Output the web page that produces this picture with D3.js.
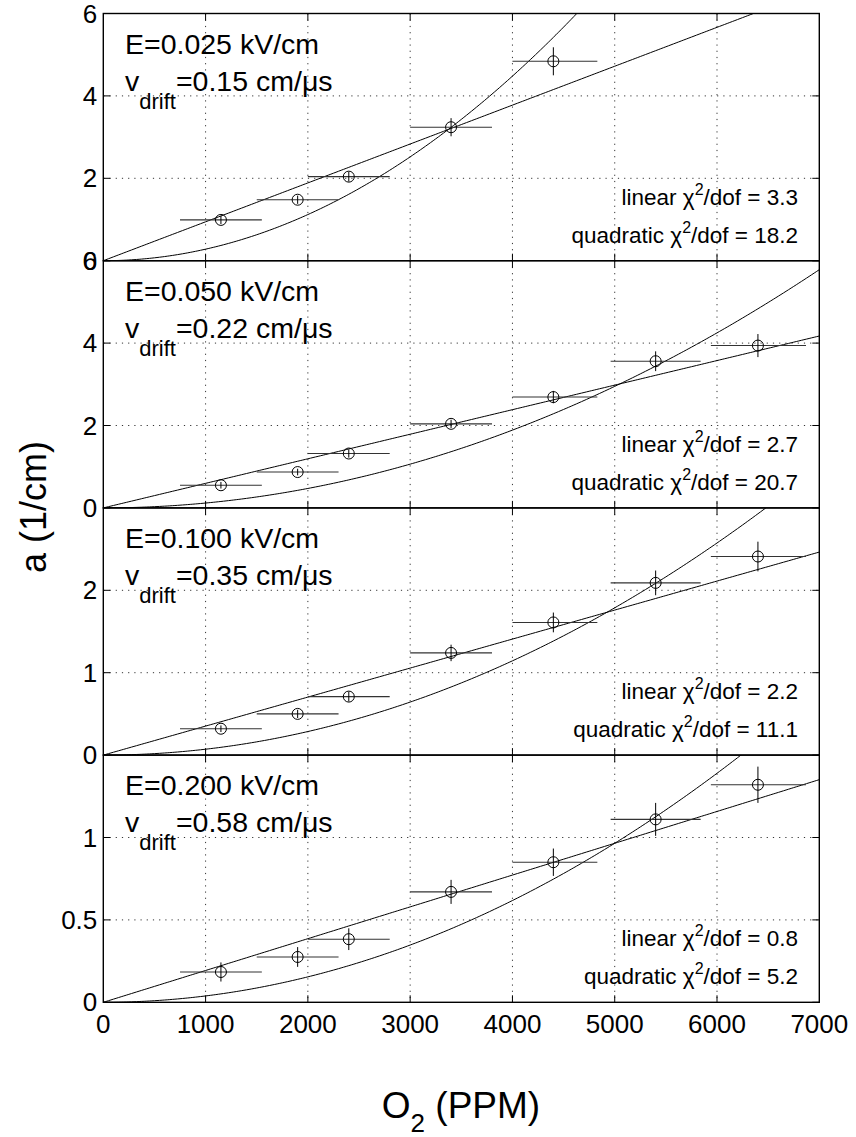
<!DOCTYPE html>
<html>
<head>
<meta charset="utf-8">
<script src="https://cdn.jsdelivr.net/npm/d3@7"></script>
<style>
  body { margin: 0; background: #fff; }
  svg { display: block; font-family: "Liberation Sans", Arial, Helvetica, sans-serif; }
</style>
</head>
<body>
<svg id="chart" width="856" height="1137"></svg>
<script>
// O2 concentration of each measurement and its horizontal extent
const o2ppm = [1150, 1900, 2400, 3400, 4400, 5400, 6400];
const o2Low = [750, 1500, 2000, 3000, 4000, 4960, 5940];
const o2High = [1550, 2300, 2800, 3800, 4830, 5840, 6870];

// panel labels
const fields = ["0.025", "0.050", "0.100", "0.200"];
const drifts = ["0.15", "0.22", "0.35", "0.58"];

// attenuation a (1/cm) and its error, one array per field
const atten025 = [0.99, 1.48, 2.04, 3.24, 4.84];
const err025 = [0.1, 0.1, 0.12, 0.22, 0.34];
const atten050 = [0.55, 0.87, 1.32, 2.04, 2.69, 3.56, 3.94];
const err050 = [0.08, 0.08, 0.1, 0.1, 0.15, 0.24, 0.28];
const atten100 = [0.32, 0.5, 0.71, 1.24, 1.61, 2.09, 2.41];
const err100 = [0.04, 0.05, 0.06, 0.1, 0.12, 0.15, 0.18];
const atten200 = [0.184, 0.275, 0.383, 0.67, 0.85, 1.11, 1.32];
const err200 = [0.058, 0.06, 0.066, 0.073, 0.083, 0.1, 0.11];

// fit coefficients: a = k*x (linear), a = q*x^2 (quadratic)
const linSlope = [9.44e-4, 5.96e-4, 3.52e-4, 1.93e-4];
const quadCoef = [2.80e-7, 1.18e-7, 7.15e-8, 3.86e-8];
const chiLinear = ["3.3", "2.7", "2.2", "0.8"];
const chiQuad = ["18.2", "20.7", "11.1", "5.2"];

// axes
const yMax = [6, 6, 3, 1.5];
const yTicks = [[0, 2, 4, 6], [0, 2, 4, 6], [0, 1, 2], [0, 0.5, 1]];
const xTicks = [0, 1000, 2000, 3000, 4000, 5000, 6000, 7000];

const attens = [atten025, atten050, atten100, atten200];
const errs = [err025, err050, err100, err200];

const left = 103.3, right = 819.3, top0 = 13.5, panelH = 247.2;
const svg = d3.select("#chart");
const x = d3.scaleLinear().domain([0, 7000]).range([left, right]);

fields.forEach((field, i) => {
  const top = top0 + i * panelH;
  const bottom = top + panelH;
  const y = d3.scaleLinear().domain([0, yMax[i]]).range([bottom, top]);
  const g = svg.append("g");

  g.append("clipPath").attr("id", "clip" + i)
    .append("rect").attr("x", left).attr("y", top)
    .attr("width", right - left).attr("height", panelH);

  // dotted grid
  const grid = g.append("g").attr("stroke", "#000").attr("stroke-width", 0.8)
    .attr("stroke-dasharray", "1.2,5");
  grid.selectAll(".gx").data(xTicks.slice(1, -1)).join("line")
    .attr("x1", d => x(d)).attr("x2", d => x(d))
    .attr("y1", top).attr("y2", bottom);
  grid.selectAll(".gy").data(yTicks[i].filter(d => d > 0 && d < yMax[i])).join("line")
    .attr("x1", left).attr("x2", right)
    .attr("y1", d => y(d)).attr("y2", d => y(d));

  // fits
  const xs = d3.range(0, 7001, 25);
  const line = d3.line().x(d => x(d[0])).y(d => y(d[1]));
  const fits = g.append("g").attr("clip-path", `url(#clip${i})`)
    .attr("fill", "none").attr("stroke", "#000").attr("stroke-width", 1);
  fits.append("path").attr("d", line(xs.map(v => [v, linSlope[i] * v])));
  fits.append("path").attr("d", line(xs.map(v => [v, quadCoef[i] * v * v])));

  // data points with error bars
  const pts = attens[i].map((a, j) => ({ a, e: errs[i][j], x: o2ppm[j], lo: o2Low[j], hi: o2High[j] }));
  const pg = g.append("g").attr("fill", "none");
  pg.selectAll(".xe").data(pts).join("line")
    .attr("stroke", "#333").attr("stroke-width", 1.1)
    .attr("x1", d => x(d.lo)).attr("x2", d => x(d.hi))
    .attr("y1", d => y(d.a)).attr("y2", d => y(d.a));
  pg.selectAll(".ye").data(pts).join("line")
    .attr("stroke", "#000").attr("stroke-width", 1)
    .attr("x1", d => x(d.x)).attr("x2", d => x(d.x))
    .attr("y1", d => y(d.a - d.e)).attr("y2", d => y(d.a + d.e));
  pg.selectAll("circle").data(pts).join("circle")
    .attr("stroke", "#000").attr("stroke-width", 1)
    .attr("cx", d => x(d.x)).attr("cy", d => y(d.a)).attr("r", 5.5);

  // frame and inward ticks
  g.append("rect").attr("x", left).attr("y", top)
    .attr("width", right - left).attr("height", panelH)
    .attr("fill", "none").attr("stroke", "#000").attr("stroke-width", 1.4);
  const tk = g.append("g").attr("stroke", "#000").attr("stroke-width", 1);
  const tl = 7;
  xTicks.slice(1, -1).forEach(v => {
    tk.append("line").attr("x1", x(v)).attr("x2", x(v)).attr("y1", bottom).attr("y2", bottom - tl);
    tk.append("line").attr("x1", x(v)).attr("x2", x(v)).attr("y1", top).attr("y2", top + tl);
  });
  yTicks[i].forEach(v => {
    tk.append("line").attr("x1", left).attr("x2", left + tl).attr("y1", y(v)).attr("y2", y(v));
    tk.append("line").attr("x1", right).attr("x2", right - tl).attr("y1", y(v)).attr("y2", y(v));
  });

  // y tick labels
  g.selectAll(".yl").data(yTicks[i]).join("text")
    .attr("x", left - 6).attr("y", d => y(d) + 9)
    .attr("text-anchor", "end").attr("font-size", 26)
    .text(d => d);

  // field / drift annotation
  g.append("text").attr("x", 125).attr("y", top + 40).attr("font-size", 28.5)
    .text(`E=${field} kV/cm`);
  const vt = g.append("text").attr("x", 125).attr("y", top + 77).attr("font-size", 28.5);
  vt.append("tspan").text("v");
  vt.append("tspan").attr("font-size", 22).attr("dy", 18).text("drift");
  vt.append("tspan").attr("dy", -18).text(`=${drifts[i]} cm/\u03bcs`);

  // chi2 annotations
  [["linear", chiLinear[i], 56], ["quadratic", chiQuad[i], 18]].forEach(([name, val, off]) => {
    const t = g.append("text").attr("x", 798).attr("y", bottom - off)
      .attr("text-anchor", "end").attr("font-size", 22.5);
    t.append("tspan").text(`${name} \u03c7`);
    t.append("tspan").attr("font-size", 16).attr("dy", -10).text("2");
    t.append("tspan").attr("dy", 10).text(`/dof = ${val}`);
  });
});

// x tick labels
const xBottom = top0 + 4 * panelH;
svg.selectAll(".xl").data(xTicks).join("text")
  .attr("x", d => x(d)).attr("y", xBottom + 31)
  .attr("text-anchor", "middle").attr("font-size", 26)
  .text(d => d);

// axis titles
const xt = svg.append("text").attr("x", 461).attr("y", 1118)
  .attr("text-anchor", "middle").attr("font-size", 37);
xt.append("tspan").text("O");
xt.append("tspan").attr("font-size", 26).attr("dy", 14).text("2");
xt.append("tspan").attr("dy", -14).text(" (PPM)");

svg.append("text")
  .attr("transform", `translate(46,507) rotate(-90)`)
  .attr("text-anchor", "middle").attr("font-size", 36)
  .text("a (1/cm)");
</script>
</body>
</html>
